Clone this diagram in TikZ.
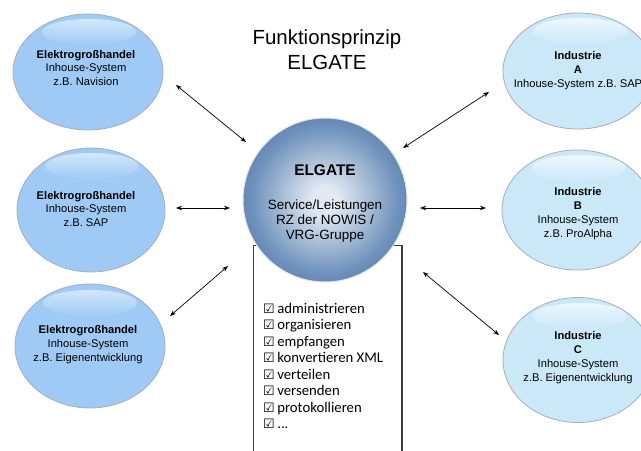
\documentclass[tikz,border=0pt]{standalone}
\usepackage{fontspec}
\setmainfont{Liberation Sans}
\newfontfamily\calib{Carlito}
\newfontfamily\dejavu{DejaVu Sans}
\usetikzlibrary{shapes.geometric,arrows.meta}
\definecolor{lbase}{RGB}{158,202,245}
\definecolor{lhl}{RGB}{210,231,250}
\definecolor{rbase}{RGB}{203,232,249}
\definecolor{rhl}{RGB}{236,247,253}
\definecolor{eline}{RGB}{165,175,185}
\definecolor{elgC}{RGB}{226,233,242}
\definecolor{elgM}{RGB}{112,147,188}
\definecolor{elgE}{RGB}{44,87,140}
\definecolor{boxline}{RGB}{60,60,60}
\pgfdeclareradialshading{elgshade}{\pgfpoint{0bp}{0bp}}{color(0bp)=(elgC); color(4bp)=(elgC); color(22bp)=(elgM); color(41bp)=(elgE); color(50bp)=(elgE)}
\tikzset{
  lell/.style={ellipse, draw=eline, line width=0.8bp, fill=lbase, inner sep=0pt},
  rell/.style={ellipse, draw=eline, line width=0.8bp, fill=rbase, inner sep=0pt},
  lgloss/.style={ellipse, inner sep=0pt, minimum width=94bp, minimum height=26bp, top color=lhl, bottom color=lbase},
  rgloss/.style={ellipse, inner sep=0pt, minimum width=94bp, minimum height=26bp, top color=rhl, bottom color=rbase},
  etext/.style={align=center, font=\fontsize{11.2}{14}\selectfont, inner sep=0pt},
  dbl/.style={{Stealth[length=6bp,width=4.5bp]}-{Stealth[length=6bp,width=4.5bp]}, line width=0.7bp, black},
  chk/.style={anchor=base west, inner sep=0pt, font=\calib\fontsize{14.8}{16}\selectfont},
}
\newcommand{\cbox}{{\dejavu\fontsize{13}{13}\selectfont ☑}\hspace{2.5bp}}
\begin{document}
\begin{tikzpicture}[x=1bp, y=-1bp]
\useasboundingbox (0,0) rectangle (641,451);
\fill[white] (0,0) rectangle (641,451);

% title
\node[align=center, inner sep=0pt, font=\fontsize{20.5}{25}\selectfont] (title) at (327,50) {Funktionsprinzip\\ELGATE};

% left ellipses
\node[lell, minimum width=150bp, minimum height=116bp] (e1) at (88,72) {};
\node[lgloss] (g1) at (89,32) {};
\node[etext] (t1) at (86,68) {\textbf{Elektrogroßhandel}\\Inhouse-System\\z.B. Navision};

\node[lell, minimum width=148bp, minimum height=124bp] (e2) at (91,210) {};
\node[lgloss] (g2) at (92,166) {};
\node[etext] (t2) at (86,209) {\textbf{Elektrogroßhandel}\\Inhouse-System\\z.B. SAP};

\node[lell, minimum width=150bp, minimum height=124bp] (e3) at (90,346) {};
\node[lgloss] (g3) at (90,303) {};
\node[etext] (t3) at (88,345) {\textbf{Elektrogroßhandel}\\Inhouse-System\\z.B. Eigenentwicklung};

% right ellipses
\node[rell, minimum width=150bp, minimum height=116bp] (e4) at (578,71) {};
\node[rgloss] (g4) at (580,31) {};
\node[etext] (t4) at (578,71) {\textbf{Industrie}\\\textbf{A}\\Inhouse-System z.B. SAP};

\node[rell, minimum width=150bp, minimum height=120bp] (e5) at (577,210) {};
\node[rgloss] (g5) at (579,168) {};
\node[etext] (t5) at (578,214) {\textbf{Industrie}\\\textbf{B}\\Inhouse-System\\z.B. ProAlpha};

\node[rell, minimum width=150bp, minimum height=125bp] (e6) at (578,360) {};
\node[rgloss] (g6) at (580,316) {};
\node[etext] (t6) at (578,358) {\textbf{Industrie}\\\textbf{C}\\Inhouse-System\\z.B. Eigenentwicklung};

% list box
\fill[white] (253,245) rectangle (402,451);
\draw[boxline, line width=0.8bp] (253,451) -- (253,245) -- (402,245);
\draw[boxline, line width=1.3bp] (402,245) -- (402,451);

% central circle
\node[circle, minimum size=164bp, inner sep=0pt, shading=elgshade, draw=white!80!gray, line width=1bp] (elg) at (325,200) {};
\node[inner sep=0pt, font=\bfseries\fontsize{15.5}{18}\selectfont] (elgt) at (325,170) {ELGATE};
\node[align=center, inner sep=0pt, font=\fontsize{13.5}{15}\selectfont] (elgs) at (325,221) {Service/Leistungen\\RZ der NOWIS /\\VRG-Gruppe};

% checklist
\node[chk] (l1) at (263,313.5) {\cbox administrieren};
\node[chk] (l2) at (263,329.9) {\cbox organisieren};
\node[chk] (l3) at (263,346.3) {\cbox empfangen};
\node[chk] (l4) at (263,362.8) {\cbox konvertieren XML};
\node[chk] (l5) at (263,379.2) {\cbox verteilen};
\node[chk] (l6) at (263,395.6) {\cbox versenden};
\node[chk] (l7) at (263,412.1) {\cbox protokollieren};
\node[chk] (l8) at (263,428.5) {\cbox ...};

% arrows
\coordinate (a1s) at (176,85);  \coordinate (a1e) at (246,142);
\coordinate (a2s) at (176,208); \coordinate (a2e) at (230,208);
\coordinate (a3s) at (170,316); \coordinate (a3e) at (228,266);
\coordinate (a4s) at (403,148); \coordinate (a4e) at (489,92);
\coordinate (a5s) at (420,208); \coordinate (a5e) at (486,208);
\coordinate (a6s) at (423,272); \coordinate (a6e) at (499,335);
\draw[dbl] (a1s) -- (a1e);
\draw[dbl] (a2s) -- (a2e);
\draw[dbl] (a3s) -- (a3e);
\draw[dbl] (a4s) -- (a4e);
\draw[dbl] (a5s) -- (a5e);
\draw[dbl] (a6s) -- (a6e);
\end{tikzpicture}
\end{document}
